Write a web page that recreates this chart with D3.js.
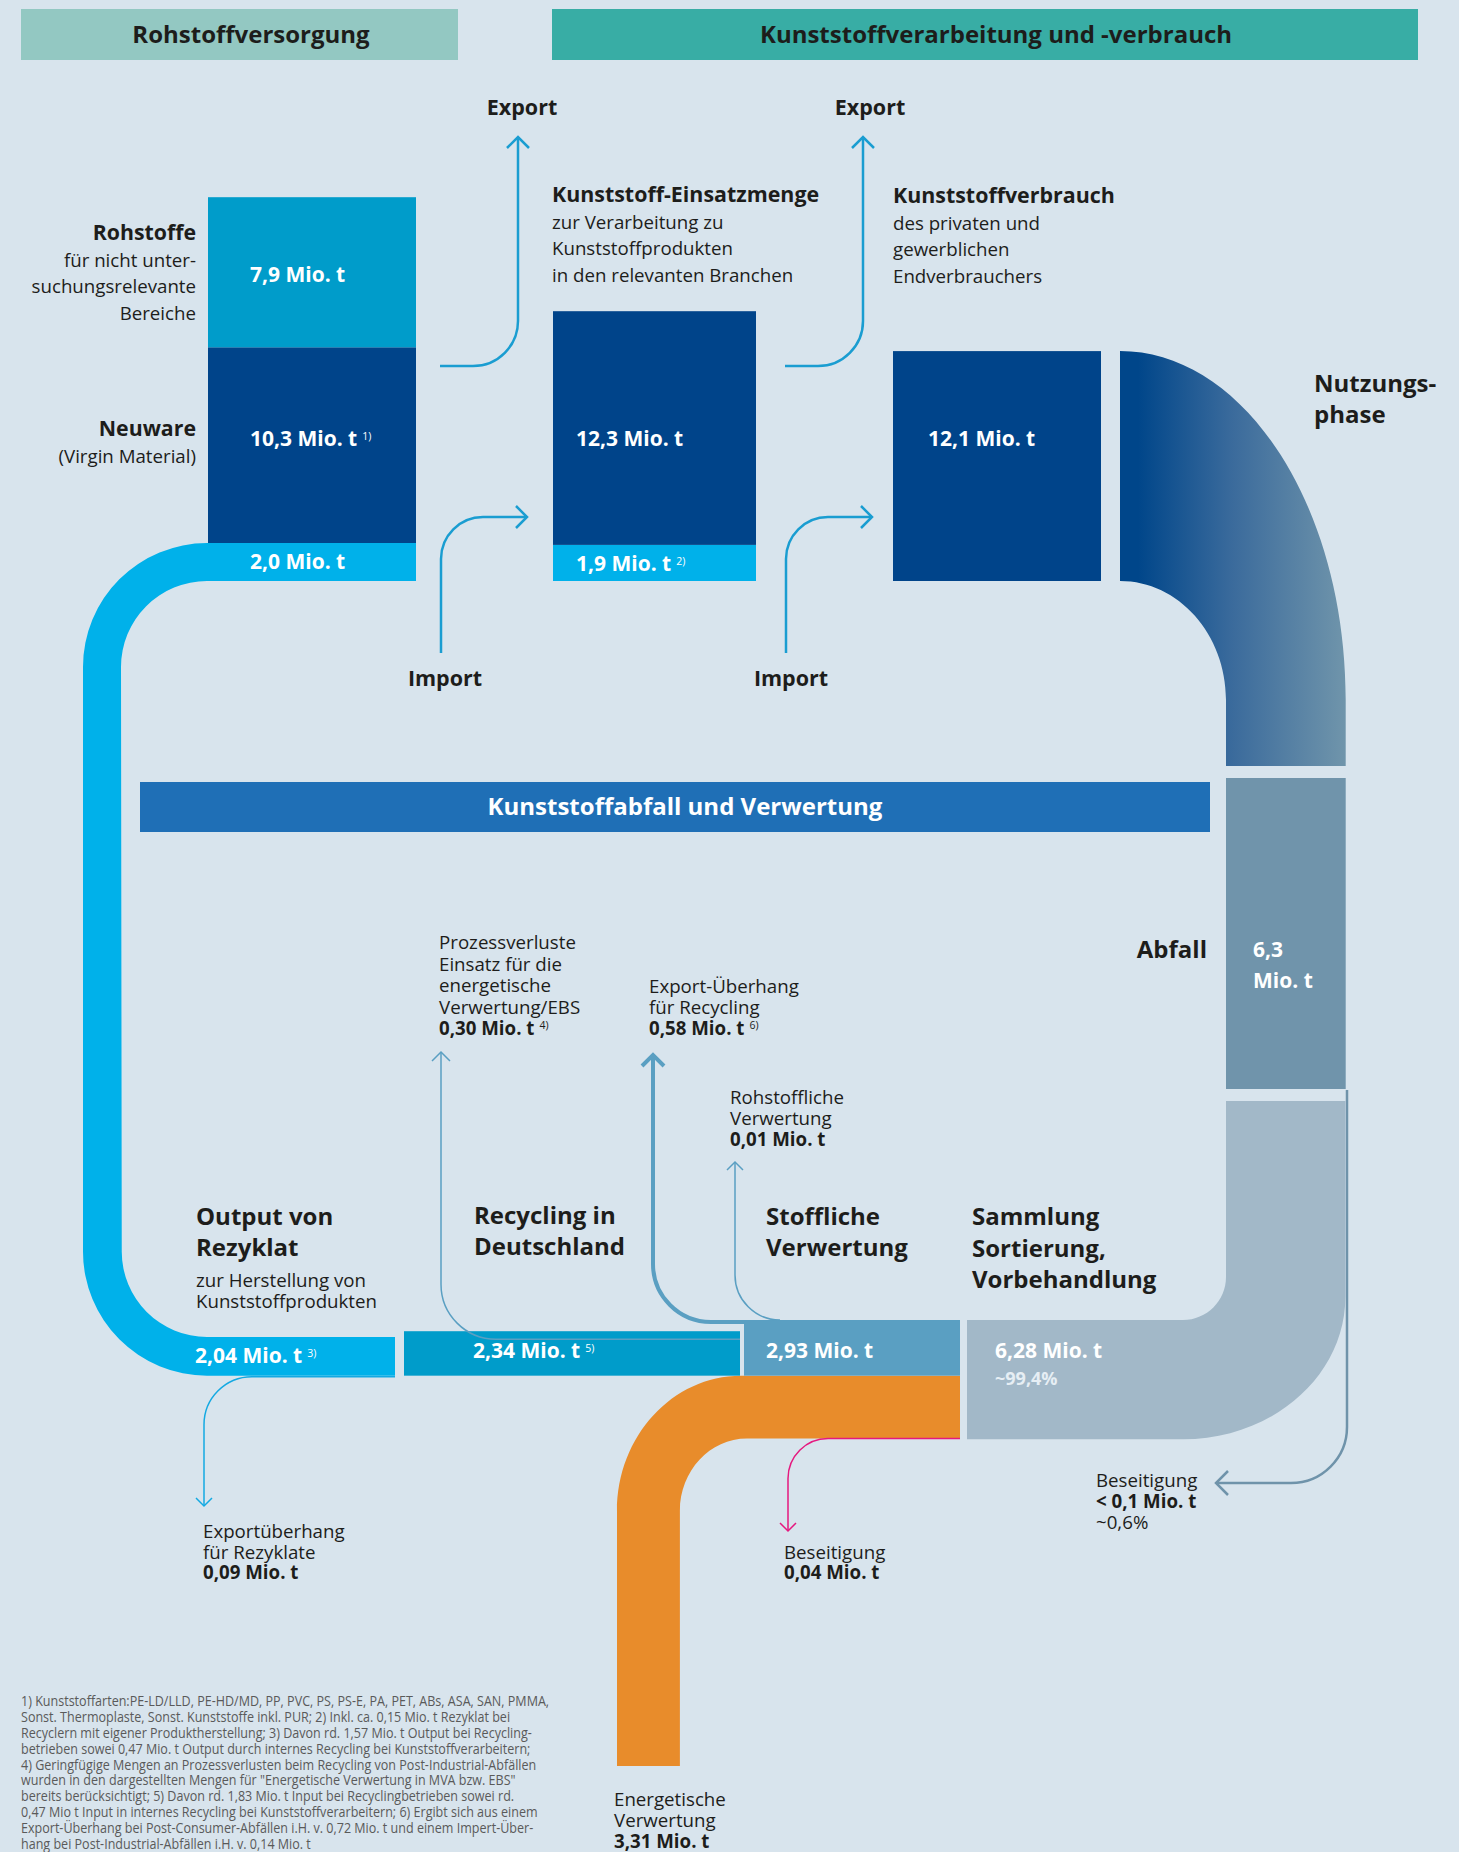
<!DOCTYPE html>
<html>
<head>
<meta charset="utf-8">
<script src="https://cdn.jsdelivr.net/npm/d3@7"></script>
<style>
  body { margin: 0; background: #d8e4ed; }
  svg { display: block; font-family: "Open Sans", sans-serif; }
</style>
</head>
<body>
<svg id="chart" width="1459" height="1852"></svg>
<script>
// --- values (Mio. t) ---
const supplyValues = [7.9, 10.3, 2.0];          // Rohstoffe, Neuware, Rezyklat-Einsatz
const supplyNotes = ['', '1)', ''];
const inputValues = [12.3, 1.9];                // Einsatzmenge, davon Rezyklat
const inputNotes = ['', '2)'];
const consumptionValues = [12.1];
const wasteValues = [6.3];
const recoveryNames = ['Output von Rezyklat', 'Recycling in Deutschland', 'Stoffliche Verwertung', 'Sammlung'];
const recoveryValues = [2.04, 2.34, 2.93, 6.28];
const recoveryNotes = ['3)', '5)', '', ''];
const energyValues = [3.31];
const sideFlowNames = ['Prozessverluste', 'Export-Überhang Recycling', 'Rohstoffliche Verwertung',
  'Exportüberhang Rezyklate', 'Beseitigung (Verwertung)', 'Beseitigung (Sammlung)'];
const sideFlowValues = [0.30, 0.58, 0.01, 0.09, 0.04, 0.1];

const footnotes = [
  '1) Kunststoffarten:PE-LD/LLD, PE-HD/MD, PP, PVC, PS, PS-E, PA, PET, ABs, ASA, SAN, PMMA,',
  'Sonst. Thermoplaste, Sonst. Kunststoffe inkl. PUR; 2) Inkl. ca. 0,15 Mio. t Rezyklat bei',
  'Recyclern mit eigener Produktherstellung; 3) Davon rd. 1,57 Mio. t Output bei Recycling-',
  'betrieben sowei 0,47 Mio. t Output durch internes Recycling bei Kunststoffverarbeitern;',
  '4) Geringfügige Mengen an Prozessverlusten beim Recycling von Post-Industrial-Abfällen',
  'wurden in den dargestellten Mengen für "Energetische Verwertung in MVA bzw. EBS"',
  'bereits berücksichtigt; 5) Davon rd. 1,83 Mio. t Input bei Recyclingbetrieben sowei rd.',
  '0,47 Mio t Input in internes Recycling bei Kunststoffverarbeitern; 6) Ergibt sich aus einem',
  'Export-Überhang bei Post-Consumer-Abfällen i.H. v. 0,72 Mio. t und einem Impert-Über-',
  'hang bei Post-Industrial-Abfällen i.H. v. 0,14 Mio. t'
];

// --- setup ---
const de = d3.formatLocale({ decimal: ',', thousands: '.', grouping: [3], currency: ['', ' €'] });
const f1 = v => de.format('.1f')(v) + ' Mio. t';
const f2 = v => de.format('.2f')(v) + ' Mio. t';

const svg = d3.select('#chart');
const ink = '#1d1d1b';
const K = 0.5523;
// mass -> band thickness in px
const t = d3.scaleLinear().domain([0, 1]).range([0, 19]);
// side flow -> line width
const lw = d3.scaleLinear().domain([0.3, 0.58]).range([1.5, 4]).clamp(true);

const colors = {
  light: '#009cca', navy: '#00448a', cyan: '#00b1ea', band: '#1f6fb6',
  waste: '#7094ab', collect: '#a2b8c8', material: '#5a9fc2', energy: '#e88c2b',
  magenta: '#e5197f', arrow: '#1a9dd1'
};
const VAL = 21;     // value label size
const TXT = 18.7;   // body text size
const HEAD = 24;    // big labels

svg.append('rect').attr('width', 1459).attr('height', 1852).attr('fill', '#d8e4ed');

function corner(p, x0, y0, x1, y1, startHorizontal) {
  if (startHorizontal) p.bezierCurveTo(x0 + K * (x1 - x0), y0, x1, y1 - K * (y1 - y0), x1, y1);
  else p.bezierCurveTo(x0, y0 + K * (y1 - y0), x1 - K * (x1 - x0), y1, x1, y1);
}

function label(x, y, rows, opts = {}) {
  const size = opts.size || TXT, lh = opts.lh || 22;
  const txt = svg.append('text').attr('x', x).attr('y', y)
    .attr('text-anchor', opts.anchor || 'start')
    .attr('fill', opts.fill || ink).attr('font-size', size);
  let shift = 0;
  rows.forEach((row, i) => {
    const r = typeof row === 'string' ? { text: row } : row;
    txt.append('tspan').attr('x', x).attr('dy', (i ? (r.lh || lh) : 0) + shift)
      .attr('font-weight', r.bold || opts.bold ? 700 : 400)
      .attr('font-size', r.size || size)
      .attr('fill', r.fill || null)
      .text(r.text);
    shift = 0;
    if (r.note) {
      txt.append('tspan').attr('dx', 5).attr('dy', -6).attr('font-size', 10.5)
        .attr('font-weight', 400).text(r.note);
      shift = 6;
    }
  });
  return txt;
}

function arrowLine(build, color, width, tip, dir, size) {
  const p = d3.path();
  build(p);
  svg.append('path').attr('d', p.toString()).attr('fill', 'none')
    .attr('stroke', color).attr('stroke-width', width);
  const h = d3.path();
  const [x, y] = tip, s = size;
  if (dir === 'up') { h.moveTo(x - s, y + s); h.lineTo(x, y); h.lineTo(x + s, y + s); }
  if (dir === 'down') { h.moveTo(x - s, y - s); h.lineTo(x, y); h.lineTo(x + s, y - s); }
  if (dir === 'right') { h.moveTo(x - s, y - s); h.lineTo(x, y); h.lineTo(x - s, y + s); }
  if (dir === 'left') { h.moveTo(x + s, y - s); h.lineTo(x, y); h.lineTo(x + s, y + s); }
  svg.append('path').attr('d', h.toString()).attr('fill', 'none')
    .attr('stroke', color).attr('stroke-width', width).attr('stroke-linejoin', 'miter');
}

// --- section headers ---
svg.append('rect').attr('x', 21).attr('y', 9).attr('width', 437).attr('height', 51).attr('fill', '#93c8c2');
svg.append('rect').attr('x', 552).attr('y', 9).attr('width', 866).attr('height', 51).attr('fill', '#38ada5');
label(251, 43, ['Rohstoffversorgung'], { size: HEAD, bold: true, anchor: 'middle' });
label(996, 43, ['Kunststoffverarbeitung und -verbrauch'], { size: HEAD, bold: true, anchor: 'middle' });

// --- columns: supply, input, consumption ---
const base = 581;
function stack(values, x, w, fills) {
  let y = base;
  const out = [];
  for (let i = values.length - 1; i >= 0; i--) {
    const h = t(values[i]);
    y -= h;
    svg.append('rect').attr('x', x).attr('y', y).attr('width', w).attr('height', h).attr('fill', fills[i]);
    out[i] = { y0: y, y1: y + h };
  }
  return out;
}
const col1 = stack(supplyValues, 208, 208, [colors.light, colors.navy, colors.cyan]);
const col2 = stack(inputValues, 553, 203, [colors.navy, colors.cyan]);
const col3 = stack(consumptionValues, 893, 208, [colors.navy]);

// recycling loop (2,0 -> 2,04)
const loopT = t(supplyValues[2]);
const botT = t(recoveryValues[0]);
const rowTop = 1320;                                   // top of bottom row
const matBottom = rowTop + t(recoveryValues[2]);       // bottom of 2,93 block
{
  const p = d3.path();
  const cx = 207, cyTop = col1[2].y0 + 124, cyBot = matBottom - 124;
  p.moveTo(210, col1[2].y0);
  p.lineTo(cx, col1[2].y0);
  p.arc(cx, cyTop, 124, -Math.PI / 2, -Math.PI, true);
  p.lineTo(cx - 124, cyBot);
  p.arc(cx, cyBot, 124, Math.PI, Math.PI / 2, true);
  p.lineTo(395, matBottom);
  p.lineTo(395, matBottom - botT);
  p.lineTo(cx, matBottom - botT);
  p.arc(cx, cyBot, 124 - botT, Math.PI / 2, Math.PI, false);
  p.lineTo(cx - 124 + loopT, cyTop);
  p.arc(cx, cyTop, 124 - loopT, Math.PI, 1.5 * Math.PI, false);
  p.lineTo(210, col1[2].y1);
  p.closePath();
  svg.append('path').attr('d', p.toString()).attr('fill', colors.cyan);
}

// column labels
const midNavy = col1[1].y0 + t(supplyValues[1]) / 2;
label(250, col1[0].y0 + t(supplyValues[0]) / 2 + 10, [f1(supplyValues[0])], { size: VAL, bold: true, fill: '#fff' });
label(250, midNavy + 1, [{ text: f1(supplyValues[1]), note: supplyNotes[1] }], { size: VAL, bold: true, fill: '#fff' });
label(250, col1[2].y0 + loopT / 2 + 7, [f1(supplyValues[2])], { size: VAL, bold: true, fill: '#fff' });
label(576, midNavy + 1, [f1(inputValues[0])], { size: VAL, bold: true, fill: '#fff' });
label(576, col2[1].y0 + t(inputValues[1]) / 2 + 8, [{ text: f1(inputValues[1]), note: inputNotes[1] }], { size: VAL, bold: true, fill: '#fff' });
label(928, midNavy + 1, [f1(consumptionValues[0])], { size: VAL, bold: true, fill: '#fff' });

label(196, 240, [{ text: 'Rohstoffe', bold: true, size: 21.3 }, 'für nicht unter-', 'suchungsrelevante', 'Bereiche'], { anchor: 'end', lh: 26.5 });
label(196, 436, [{ text: 'Neuware', bold: true, size: 21.3 }, '(Virgin Material)'], { anchor: 'end', lh: 26.5 });
label(552, 202, [{ text: 'Kunststoff-Einsatzmenge', bold: true, size: 21.4 }, 'zur Verarbeitung zu', 'Kunststoffprodukten', 'in den relevanten Branchen'], { lh: 26.5 });
label(893, 203, [{ text: 'Kunststoffverbrauch', bold: true, size: 21.4 }, 'des privaten und', 'gewerblichen', 'Endverbrauchers'], { lh: 26.5 });

// export / import arrows
[[440, 518], [785, 863]].forEach(([x0, x1]) => {
  arrowLine(p => { p.moveTo(x0, 366); p.arcTo(x1, 366, x1, 136, 45); p.lineTo(x1, 137); }, colors.arrow, 2.5, [x1, 137], 'up', 11);
});
[[441, 527], [786, 872]].forEach(([x0, x1]) => {
  arrowLine(p => { p.moveTo(x0, 653); p.arcTo(x0, 517, x1, 517, 42); p.lineTo(x1, 517); }, colors.arrow, 2.5, [x1, 517], 'right', 11);
});
label(522, 115, ['Export'], { size: 21.5, bold: true, anchor: 'middle' });
label(870, 115, ['Export'], { size: 21.5, bold: true, anchor: 'middle' });
label(445, 686, ['Import'], { size: 21.5, bold: true, anchor: 'middle' });
label(791, 686, ['Import'], { size: 21.5, bold: true, anchor: 'middle' });

// --- use phase ---
const grad = svg.append('defs').append('linearGradient').attr('id', 'use')
  .attr('gradientUnits', 'userSpaceOnUse').attr('x1', 1120).attr('x2', 1346).attr('y1', 0).attr('y2', 0);
grad.append('stop').attr('offset', 0.08).attr('stop-color', '#00468a');
grad.append('stop').attr('offset', 0.5).attr('stop-color', '#3b6b9c');
grad.append('stop').attr('offset', 1).attr('stop-color', '#7095ab');
{
  const wT = t(wasteValues[0]);
  const xR = 1226 + wT;
  const p = d3.path();
  p.moveTo(1120, col3[0].y0);
  corner(p, 1120, col3[0].y0, xR, 700, true);
  p.lineTo(xR, 766);
  p.lineTo(1226, 766);
  p.lineTo(1226, 700);
  corner(p, 1226, 700, 1120, col3[0].y1, false);
  p.closePath();
  svg.append('path').attr('d', p.toString()).attr('fill', 'url(#use)');
  svg.append('rect').attr('x', 1226).attr('y', 778).attr('width', wT).attr('height', 311).attr('fill', colors.waste);
}
label(1314, 392, ['Nutzungs-', 'phase'], { size: HEAD, bold: true, lh: 31 });
label(1207, 958, ['Abfall'], { size: HEAD, bold: true, anchor: 'end' });
label(1253, 957, ['6,3', 'Mio. t'], { size: VAL, bold: true, fill: '#fff', lh: 31 });

// banner
svg.append('rect').attr('x', 140).attr('y', 782).attr('width', 1070).attr('height', 50).attr('fill', colors.band);
label(685, 815, ['Kunststoffabfall und Verwertung'], { size: HEAD, bold: true, fill: '#fff', anchor: 'middle' });

// --- collection / sorting ---
const colT = t(recoveryValues[3]);
{
  const xL = 1226, xR = xL + colT, yB = rowTop + colT;
  const p = d3.path();
  p.moveTo(xL, 1101);
  p.lineTo(xR, 1101);
  p.lineTo(xR, 1297);
  corner(p, xR, 1297, 1183, yB, false);
  p.lineTo(967, yB);
  p.lineTo(967, rowTop);
  p.lineTo(1183, rowTop);
  corner(p, 1183, rowTop, xL, 1277, true);
  p.closePath();
  svg.append('path').attr('d', p.toString()).attr('fill', colors.collect);
}

// energetic recovery (orange)
{
  const top = matBottom, bot = top + t(energyValues[0]);
  const xo = 617, xi = xo + t(energyValues[0]);
  const p = d3.path();
  p.moveTo(960, top);
  p.lineTo(741, top);
  corner(p, 741, top, xo, 1511, true);
  p.lineTo(xo, 1766);
  p.lineTo(xi, 1766);
  p.lineTo(xi, 1511);
  corner(p, xi, 1511, 747, bot, false);
  p.lineTo(960, bot);
  p.closePath();
  svg.append('path').attr('d', p.toString()).attr('fill', colors.energy);
  arrowLine(q => { q.moveTo(960, bot); q.arcTo(788, bot, 788, 1531, 40); q.lineTo(788, 1531); }, colors.magenta, lw(sideFlowValues[4]), [788, 1531], 'down', 8);
}

// recycling blocks
svg.append('rect').attr('x', 404).attr('y', matBottom - t(recoveryValues[1])).attr('width', 336)
  .attr('height', t(recoveryValues[1])).attr('fill', colors.light);
svg.append('rect').attr('x', 744).attr('y', rowTop).attr('width', 216)
  .attr('height', t(recoveryValues[2])).attr('fill', colors.material);

// side flow arrows
const recTop = matBottom - t(recoveryValues[1]);
arrowLine(p => { p.moveTo(740, recTop + 8); p.arcTo(441, recTop + 8, 441, 1051, 55); p.lineTo(441, 1052); }, '#5a9fc2', lw(sideFlowValues[0]), [441, 1052], 'up', 9);
arrowLine(p => { p.moveTo(748, rowTop + 2); p.arcTo(653, rowTop + 2, 653, 1053, 58); p.lineTo(653, 1055); }, '#5a9fc2', lw(sideFlowValues[1]), [653, 1055], 'up', 11);
arrowLine(p => { p.moveTo(780, rowTop); p.arcTo(735, rowTop, 735, 1161, 45); p.lineTo(735, 1162); }, '#5a9fc2', lw(sideFlowValues[2]), [735, 1162], 'up', 8);
arrowLine(p => { p.moveTo(395, matBottom + 1); p.arcTo(204, matBottom + 1, 204, 1506, 48); p.lineTo(204, 1506); }, '#14a9e2', lw(sideFlowValues[3]), [204, 1506], 'down', 8);
arrowLine(p => { p.moveTo(1347, 1090); p.arcTo(1347, 1483, 1215, 1483, 56); p.lineTo(1216, 1483); }, '#6f93aa', 2.5, [1216, 1483], 'left', 12);

// bottom row labels
label(195, 1363, [{ text: f2(recoveryValues[0]), note: recoveryNotes[0] }], { size: VAL, bold: true, fill: '#fff' });
label(473, 1358, [{ text: f2(recoveryValues[1]), note: recoveryNotes[1] }], { size: VAL, bold: true, fill: '#fff' });
label(766, 1358, [f2(recoveryValues[2])], { size: VAL, bold: true, fill: '#fff' });
label(995, 1358, [f2(recoveryValues[3]), { text: '~99,4%', size: 18, fill: '#e6eef4' }], { size: VAL, bold: true, fill: '#fff', lh: 27 });

label(196, 1225, [{ text: 'Output von', bold: true, size: HEAD }, { text: 'Rezyklat', bold: true, size: HEAD },
  'zur Herstellung von', { text: 'Kunststoffprodukten', lh: 20.5 }], { lh: 31 });
label(474, 1224, ['Recycling in', 'Deutschland'], { size: HEAD, bold: true, lh: 31 });
label(766, 1225, ['Stoffliche', 'Verwertung'], { size: HEAD, bold: true, lh: 31 });
label(972, 1225, ['Sammlung', 'Sortierung,', 'Vorbehandlung'], { size: HEAD, bold: true, lh: 31.5 });

label(439, 949, ['Prozessverluste', 'Einsatz für die', 'energetische', 'Verwertung/EBS',
  { text: f2(sideFlowValues[0]), bold: true, note: '4)' }], { lh: 21.5 });
label(649, 993, ['Export-Überhang', 'für Recycling', { text: f2(sideFlowValues[1]), bold: true, note: '6)' }], { lh: 21 });
label(730, 1104, ['Rohstoffliche', 'Verwertung', { text: f2(sideFlowValues[2]), bold: true }], { lh: 21 });
label(203, 1538, ['Exportüberhang', 'für Rezyklate', { text: f2(sideFlowValues[3]), bold: true }], { lh: 20.5 });
label(784, 1559, ['Beseitigung', { text: f2(sideFlowValues[4]), bold: true }], { lh: 20 });
label(1096, 1487, ['Beseitigung', { text: '< ' + f1(sideFlowValues[5]), bold: true }, '~0,6%'], { lh: 21 });
label(614, 1806, ['Energetische', 'Verwertung', { text: f2(energyValues[0]), bold: true }], { lh: 21 });

// footnotes
const fn = svg.append('g').attr('transform', 'translate(21,0) scale(0.897,1)');
fn.selectAll('text').data(footnotes).join('text')
  .attr('x', 0).attr('y', (d, i) => 1706 + i * 15.9)
  .attr('font-size', 14).attr('fill', '#5a5a5a').text(d => d);
</script>
</body>
</html>
